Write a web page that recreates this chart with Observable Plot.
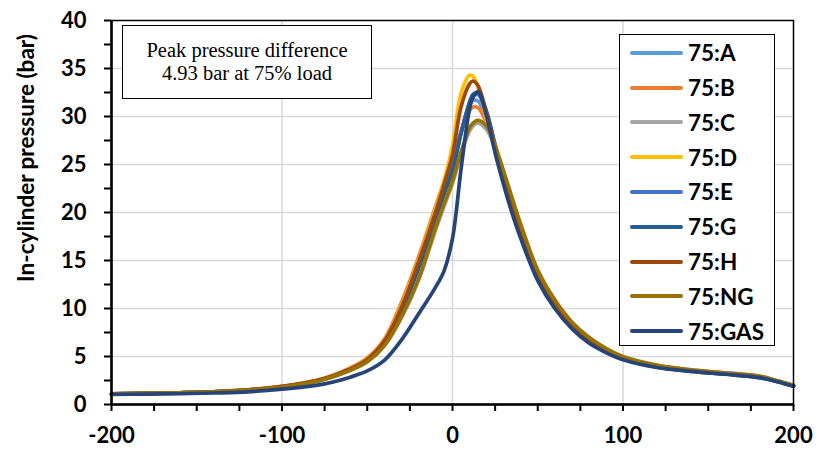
<!DOCTYPE html>
<html><head><meta charset="utf-8">
<script src="https://cdn.jsdelivr.net/npm/d3@7"></script>
<script src="https://cdn.jsdelivr.net/npm/@observablehq/plot@0.6"></script>
<style>
body{margin:0;background:#fff;}
#wrap{position:relative;width:816px;height:457px;overflow:hidden;background:#fff;font-family:Lato,"Open Sans",sans-serif;}
#ytitle{position:absolute;left:25px;top:158px;transform:translate(-50%,-50%) rotate(-90deg);white-space:nowrap;font-weight:bold;font-size:22.5px;color:#000;}
#note{position:absolute;left:122px;top:25px;width:248px;height:72px;border:1.5px solid #000;background:#fff;font-family:"Liberation Serif","DejaVu Serif",serif;font-size:20.5px;line-height:23px;text-align:center;display:flex;flex-direction:column;justify-content:center;}
#legend{position:absolute;left:619px;top:34px;width:154px;height:310px;border:1.5px solid #000;background:#fff;}
.row{position:absolute;left:0;height:30px;display:flex;align-items:center;}
.sw{width:53px;height:4px;margin-left:10px;margin-right:5px;border-radius:2px;}
.lab{font-weight:bold;font-size:22.5px;color:#000;}
</style></head>
<body><div id="wrap"></div>
<script>
const xs = [-200,-180,-160,-140,-120,-100,-80,-70,-60,-50,-40,-30,-20,-10,-5,0,5,10,12,15,20,25,30,35,40,50,60,70,80,90,100,120,140,160,180,190,200];
const sA  = [1.1,1.15,1.22,1.32,1.5,1.85,2.45,2.95,3.65,4.6,6.4,10.0,14.6,19.8,22.4,24.9,28.4,31.2,31.7,31.6,29.6,26.8,23.7,20.7,18.0,13.4,10.4,8.2,6.7,5.6,4.8,3.95,3.5,3.2,2.85,2.45,1.95];
const sB  = [1.1,1.15,1.22,1.33,1.52,1.9,2.5,3.05,3.8,4.85,6.8,10.6,15.3,20.6,23.2,25.5,28.4,30.6,31.0,30.9,29.3,26.7,23.7,20.8,18.1,13.5,10.4,8.2,6.7,5.6,4.8,3.95,3.5,3.2,2.85,2.45,1.95];
const sC  = [1.1,1.15,1.22,1.32,1.5,1.82,2.4,2.9,3.55,4.45,6.1,9.0,12.9,18.1,20.6,23.0,26.0,28.5,29.0,29.3,28.6,26.7,24.1,21.3,18.6,13.9,10.8,8.5,6.9,5.8,4.95,4.05,3.6,3.3,2.95,2.5,2.0];
const sD  = [1.1,1.15,1.22,1.33,1.52,1.88,2.5,3.0,3.75,4.75,6.7,10.3,15.0,20.3,23.3,27.0,32.4,34.3,34.2,33.0,29.7,26.5,23.4,20.5,17.9,13.4,10.4,8.2,6.7,5.6,4.8,3.95,3.5,3.2,2.85,2.45,1.95];
const sE  = [1.1,1.15,1.22,1.32,1.5,1.85,2.45,2.95,3.65,4.6,6.4,9.8,14.3,19.5,22.1,24.6,28.3,31.4,32.1,32.3,30.3,27.0,23.7,20.7,18.0,13.4,10.4,8.2,6.7,5.6,4.8,3.95,3.5,3.2,2.85,2.45,1.95];
const sG  = [1.1,1.15,1.22,1.32,1.5,1.85,2.45,2.95,3.65,4.6,6.35,9.7,14.1,19.3,21.9,24.3,28.2,31.5,32.3,32.5,30.5,27.0,23.6,20.6,17.9,13.3,10.3,8.1,6.6,5.55,4.75,3.9,3.45,3.15,2.8,2.4,1.9];
const sH  = [1.1,1.15,1.22,1.33,1.52,1.88,2.5,3.0,3.7,4.7,6.6,10.1,14.8,20.0,22.9,26.0,31.0,33.4,33.7,33.2,30.3,26.9,23.6,20.6,18.0,13.4,10.4,8.2,6.7,5.6,4.8,3.95,3.5,3.2,2.85,2.45,1.95];
const sNG = [1.1,1.15,1.22,1.32,1.5,1.82,2.4,2.9,3.55,4.45,6.1,9.1,13.0,18.4,20.9,23.3,26.3,28.8,29.3,29.6,29.0,27.0,24.3,21.5,18.8,14.0,10.9,8.6,7.0,5.85,5.0,4.1,3.6,3.3,2.95,2.5,2.0];
const sGAS= [1.05,1.08,1.12,1.2,1.32,1.6,2.0,2.35,2.85,3.5,4.6,6.7,9.4,12.2,13.9,17.3,24.5,30.8,32.0,32.6,30.0,26.2,22.9,19.9,17.3,12.9,10.0,7.9,6.4,5.4,4.65,3.85,3.45,3.15,2.8,2.4,1.9];

const seriesNames = ["75:A","75:B","75:C","75:D","75:E","75:G","75:H","75:NG","75:GAS"];
const seriesValues = [sA,sB,sC,sD,sE,sG,sH,sNG,sGAS];
const seriesColors = ["#5B9BD5","#ED7D31","#A5A5A5","#FFC000","#4472C4","#255E91","#9E480E","#997300","#264478"];
const yTicks = [0,2.5,5,7.5,10,12.5,15,17.5,20,22.5,25,27.5,30,32.5,35,37.5,40];
const xTicks = [-200,-175,-150,-125,-100,-75,-50,-25,0,25,50,75,100,125,150,175,200];
const yGrid = [5,10,15,20,25,30,35];
const xGrid = [-100,0,100];
const noteLines = ["Peak pressure difference","4.93 bar at 75% load"];
const yTitle = "In-cylinder pressure (bar)";

const rows = [];
seriesNames.forEach((name, i) => {
  seriesValues[i].forEach((v, j) => rows.push({series: name, x: xs[j], y: v}));
});

const font = "Lato, 'Open Sans', sans-serif";
const chart = Plot.plot({
  width: 816, height: 457,
  marginLeft: 111, marginRight: 23, marginTop: 20, marginBottom: 53,
  style: {fontFamily: font, background: "transparent", overflow: "visible"},
  x: {domain: [-200, 200]},
  y: {domain: [0, 40]},
  color: {domain: seriesNames, range: seriesColors},
  marks: [
    Plot.gridY(yGrid, {stroke: "#D9D9D9", strokeOpacity: 1, strokeWidth: 1.5}),
    Plot.gridX(xGrid, {stroke: "#D9D9D9", strokeOpacity: 1, strokeWidth: 1.5}),
    Plot.line(rows, {x: "x", y: "y", z: "series", stroke: "series", strokeWidth: 3.7, curve: "catmull-rom"}),
    Plot.frame({stroke: "#000", strokeWidth: 1.5}),
    Plot.axisX(xTicks, {tickSize: 7, tickPadding: 16, tickFormat: d => d % 100 === 0 ? String(d) : "", fontSize: 22, fontWeight: "bold", fill: "#000", stroke: "#000", strokeWidth: 2, label: null}),
    Plot.axisY(yTicks, {tickSize: 7, tickPadding: 18, tickFormat: d => d % 5 === 0 ? String(d) : "", fontSize: 22, fontWeight: "bold", fill: "#000", stroke: "#000", strokeWidth: 2, label: null}),
    Plot.ruleY([0], {stroke: "#000", strokeWidth: 2.5}),
    Plot.ruleX([-200], {stroke: "#000", strokeWidth: 2.5})
  ]
});
const wrap = document.getElementById("wrap");
wrap.appendChild(chart);
chart.style.position = "absolute"; chart.style.left = "0"; chart.style.top = "0";

const yt = document.createElement("div"); yt.id = "ytitle"; yt.textContent = yTitle; wrap.appendChild(yt);

const note = document.createElement("div"); note.id = "note";
noteLines.forEach(t => { const d = document.createElement("div"); d.textContent = t; note.appendChild(d); });
wrap.appendChild(note);

const leg = document.createElement("div"); leg.id = "legend";
seriesNames.forEach((name, i) => {
  const r = document.createElement("div"); r.className = "row";
  r.style.top = (17.7 + i * 34.8 - 15) + "px";
  const sw = document.createElement("div"); sw.className = "sw"; sw.style.background = seriesColors[i];
  const lb = document.createElement("span"); lb.className = "lab"; lb.textContent = name;
  r.appendChild(sw); r.appendChild(lb); leg.appendChild(r);
});
wrap.appendChild(leg);
</script></body></html>
